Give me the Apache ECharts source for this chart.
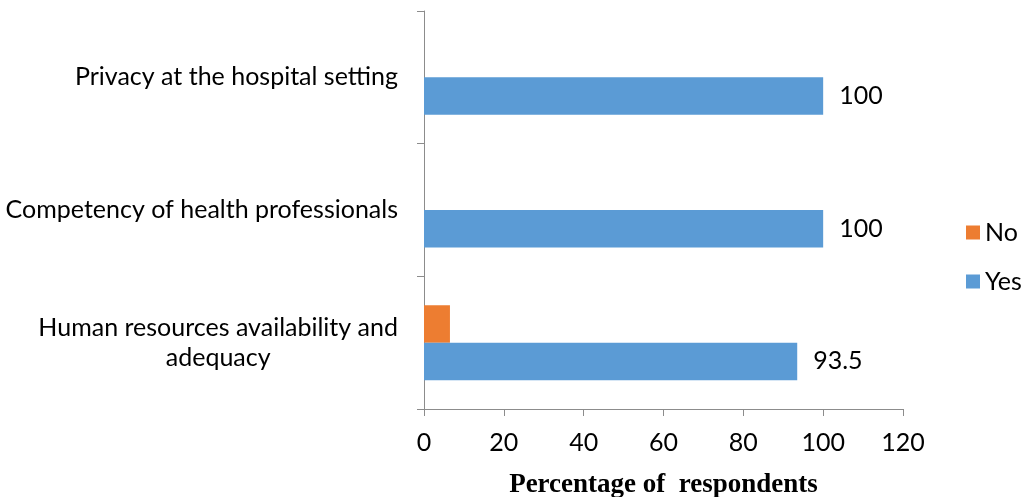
<!DOCTYPE html>
<html>
<head>
<meta charset="utf-8">
<script src="https://cdn.jsdelivr.net/npm/echarts@6/dist/echarts.min.js"></script>
<style>
  html, body { margin: 0; padding: 0; background: #fff; }
  #chart { width: 1027px; height: 497px; }
</style>
</head>
<body>
<div id="chart"></div>
<script>
// categories, bottom to top
const categories = [
  "Human resources availability and\nadequacy",
  "Competency of health professionals",
  "Privacy at the hospital setting",
];
const yesValues = [93.5, 100, 100];
const noValues = [6.5, 0, 0];
const xTicks = [0, 20, 40, 60, 80, 100, 120];

const BLUE = "#5B9BD5";
const ORANGE = "#ED7D31";
const AXIS_GRAY = "#8C8C8C";
const FONT = "Lato";

const chart = echarts.init(document.getElementById("chart"));

const option = {
  animation: false,
  textStyle: { fontFamily: FONT, color: "#000" },
  grid: {
    left: 424,
    right: 124,
    top: 11,
    bottom: 88,
    containLabel: false,
    outerBoundsMode: "none", // keep the plot box fixed, axis name sits near the bottom edge
  },
  legend: {
    orient: "vertical",
    left: 966,
    top: 220,
    padding: 0,
    itemWidth: 14,
    itemHeight: 14,
    itemGap: 24,
    icon: "rect",
    data: ["No", "Yes"],
    textStyle: { fontFamily: FONT, fontSize: 25, color: "#000", lineHeight: 24 },
  },
  xAxis: {
    type: "value",
    min: xTicks[0],
    max: xTicks[xTicks.length - 1],
    interval: 20,
    name: "Percentage of  respondents",
    nameLocation: "middle",
    nameGap: 63,
    nameTextStyle: {
      fontFamily: "Liberation Serif",
      fontWeight: "bold",
      fontSize: 27,
      color: "#000",
    },
    axisLine: { show: true, lineStyle: { color: AXIS_GRAY, width: 1 } },
    axisTick: { show: true, length: 7, lineStyle: { color: AXIS_GRAY } },
    axisLabel: { fontFamily: FONT, fontSize: 25, color: "#000", margin: 21 },
    splitLine: { show: false },
  },
  yAxis: {
    type: "category",
    data: categories,
    axisLine: { show: true, lineStyle: { color: AXIS_GRAY, width: 1 } },
    axisTick: { show: true, length: 7, lineStyle: { color: AXIS_GRAY } },
    axisLabel: {
      margin: 26,
      color: "#000",
      formatter: (v) => "{c|" + v.split("\n").join("}\n{c|") + "}",
      rich: {
        c: { fontFamily: FONT, fontSize: 25, color: "#000", lineHeight: 30, align: "center" },
      },
    },
  },
  series: [
    {
      name: "No",
      type: "bar",
      data: noValues,
      barGap: "0%",
      barCategoryGap: "43.5%",
      itemStyle: { color: ORANGE },
    },
    {
      name: "Yes",
      type: "bar",
      data: yesValues,
      barGap: "0%",
      barCategoryGap: "43.5%",
      itemStyle: { color: BLUE },
      label: {
        show: true,
        position: "right",
        distance: 16,
        fontFamily: FONT,
        fontSize: 25,
        color: "#000",
      },
    },
  ],
};

chart.setOption(option);
</script>
</body>
</html>
